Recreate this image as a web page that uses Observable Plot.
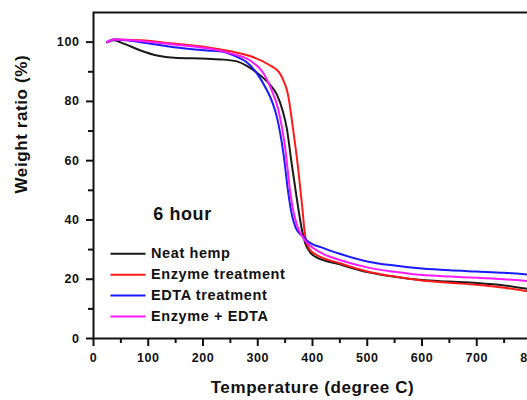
<!DOCTYPE html>
<html>
<head>
<meta charset="utf-8">
<script src="https://cdn.jsdelivr.net/npm/d3@7"></script>
<script src="https://cdn.jsdelivr.net/npm/@observablehq/plot@0.6"></script>
<style>
  html, body { margin: 0; padding: 0; background: #fff; overflow: hidden; }
  svg text { letter-spacing: 0.6px; }
</style>
</head>
<body>
<div id="chart"></div>
<script>
// ---- data ----
const seriesNames = ["Neat hemp", "Enzyme treatment", "EDTA treatment", "Enzyme + EDTA"];
const seriesColors = ["#1a1a1a", "#ff1a1a", "#1a1aff", "#ff1aff"];

const neatT = [25, 28, 37, 55, 86, 116, 147, 207, 238, 262, 280, 299, 312, 323, 335, 345, 353, 362, 371, 381, 387, 396, 405, 450, 500, 550, 600, 650, 700, 750, 800];
const neatW = [100, 100.2, 100.6, 99.5, 97.2, 95.5, 94.7, 94.4, 94.1, 93.5, 92.0, 89.6, 87.6, 85.5, 82.3, 77.2, 71.0, 59, 47.6, 36.4, 32, 29, 27.6, 25, 22.4, 20.8, 19.7, 19.2, 18.7, 17.9, 16.5];

const enzT = [25, 37, 86, 147, 207, 250, 286, 317, 341, 347, 353, 357, 361, 365, 369, 374, 378, 382, 385, 388, 395, 405, 450, 500, 550, 600, 650, 700, 750, 800];
const enzW = [100, 100.9, 100.6, 99.5, 98.3, 96.9, 95.3, 92.7, 89.3, 87, 84, 80.5, 75.5, 70, 64.5, 57, 50, 43, 37, 33.2, 30, 28.5, 25.4, 22.6, 20.9, 19.6, 18.8, 18.1, 17.1, 15.7];

const edtaT = [25, 37, 86, 147, 207, 238, 262, 280, 299, 317, 326, 335, 347, 356, 362, 369, 376, 384, 390, 420, 451, 500, 550, 600, 650, 700, 750, 800];
const edtaW = [100, 100.9, 100, 98.3, 97.2, 96.7, 95, 93.2, 89.3, 83.7, 80, 74.7, 62.3, 48.8, 42, 37.5, 35.5, 34.3, 33, 30.5, 28.5, 26, 24.6, 23.6, 23, 22.6, 22.2, 21.5];

const bothT = [25, 37, 86, 147, 207, 250, 286, 311, 323, 338, 350, 359, 365, 371, 378, 384, 395, 420, 450, 500, 550, 600, 650, 700, 750, 800];
const bothW = [100, 100.9, 100.4, 99.2, 97.9, 96.2, 93.8, 89.3, 84.8, 76.9, 64.5, 49.9, 43, 38.6, 35.5, 33.6, 31.5, 28.5, 26.5, 24, 22.5, 21.4, 20.9, 20.5, 20, 19.3];

const xMajorTicks = [0, 100, 200, 300, 400, 500, 600, 700, 800];
const xMinorTicks = [50, 150, 250, 350, 450, 550, 650, 750];
const yMajorTicks = [0, 20, 40, 60, 80, 100];
const yMinorTicks = [10, 30, 50, 70, 90];

const xTitle = "Temperature (degree C)";
const yTitle = "Weight ratio (%)";
const annotation = "6 hour";

// ---- build table ----
const allT = [neatT, enzT, edtaT, bothT];
const allW = [neatW, enzW, edtaW, bothW];
const rows = [];
seriesNames.forEach((name, i) => {
  allT[i].forEach((t, j) => rows.push({series: name, T: t, W: allW[i][j]}));
});

// legend placement (data units)
const legendRows = seriesNames.map((name, i) => ({
  series: name, x1: 31, x2: 95, xt: 105, y: 28.6 - i * 7.05
}));

const font = "'Liberation Sans', Arial, Helvetica, sans-serif";

const chart = Plot.plot({
  width: 527,
  height: 400,
  marginLeft: 93,
  marginRight: -4,
  marginTop: 12,
  marginBottom: 62,
  style: {fontFamily: font, background: "#fff", color: "#111"},
  x: {domain: [0, 800]},
  y: {domain: [0, 110]},
  color: {domain: seriesNames, range: seriesColors},
  marks: [
    Plot.axisX({ticks: xMinorTicks, tickSize: 5, text: null, strokeWidth: 2, label: null}),
    Plot.axisY({ticks: yMinorTicks, tickSize: 5, text: null, strokeWidth: 2, label: null}),
    Plot.axisX({ticks: xMajorTicks, tickSize: 8, tickPadding: 7, strokeWidth: 2, fontSize: 12.5, fontWeight: "bold", label: null, fill: "#111"}),
    Plot.axisY({ticks: yMajorTicks, tickSize: 7, tickPadding: 7, strokeWidth: 2, fontSize: 12.5, fontWeight: "bold", label: null, fill: "#111"}),
    Plot.frame({stroke: "#111", strokeWidth: 2}),
    Plot.line(rows, {x: "T", y: "W", z: "series", stroke: "series", strokeWidth: 2, curve: "monotone-x"}),
    Plot.text([annotation], {x: 109, y: 41.8, text: d => d, textAnchor: "start", fontSize: 18, fontWeight: "bold", fill: "#111"}),
    Plot.link(legendRows, {x1: "x1", x2: "x2", y1: "y", y2: "y", stroke: "series", strokeWidth: 2}),
    Plot.text(legendRows, {x: "xt", y: "y", text: "series", textAnchor: "start", fontSize: 14.5, fontWeight: "bold", fill: "#111"}),
    Plot.text([xTitle], {frameAnchor: "bottom", dy: 54, text: d => d, fontSize: 17, fontWeight: "bold", fill: "#111"}),
    Plot.text([yTitle], {frameAnchor: "left", dx: -72, dy: 18, rotate: -90, text: d => d, fontSize: 17, fontWeight: "bold", fill: "#111"})
  ]
});
document.getElementById("chart").appendChild(chart);
</script>
</body>
</html>
